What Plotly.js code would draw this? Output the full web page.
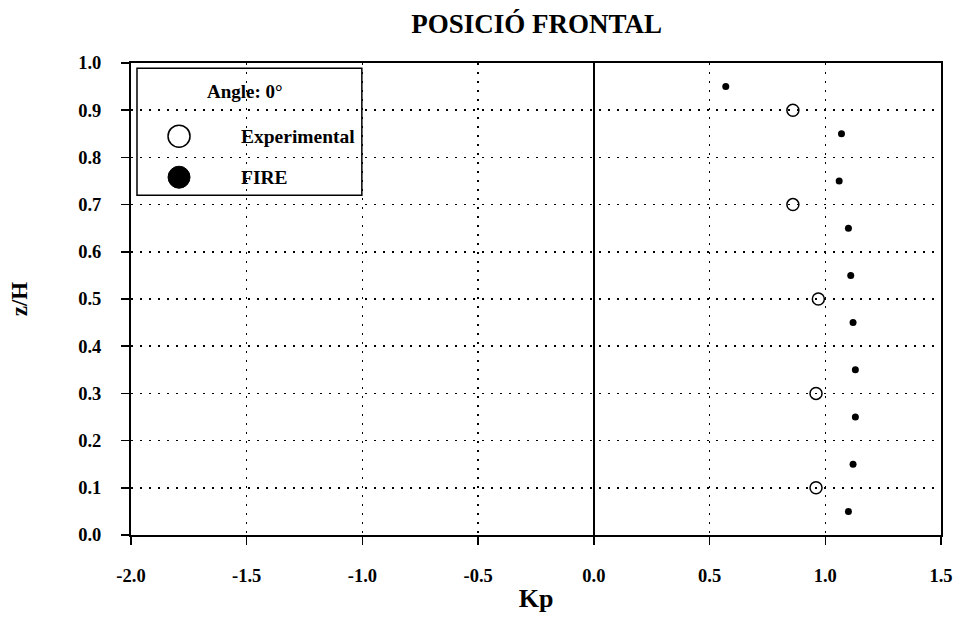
<!DOCTYPE html>
<html>
<head>
<meta charset="utf-8">
<script src="https://cdn.plot.ly/plotly-3.0.1.min.js"></script>
<style>html,body{margin:0;padding:0;background:#fff;}#chart{width:961px;height:621px;}</style>
</head>
<body>
<div id="chart"></div>
<script>
// Data
const expZ  = [0.9, 0.7, 0.5, 0.3, 0.1];
const expKp = [0.86, 0.86, 0.97, 0.96, 0.96];

const fireZ  = [0.95, 0.85, 0.75, 0.65, 0.55, 0.45, 0.35, 0.25, 0.15, 0.05];
const fireKp = [0.57, 1.07, 1.06, 1.10, 1.11, 1.12, 1.13, 1.13, 1.12, 1.10];

const xTicks = [-2.0, -1.5, -1.0, -0.5, 0.0, 0.5, 1.0, 1.5];
const yTicks = [0.0, 0.1, 0.2, 0.3, 0.4, 0.5, 0.6, 0.7, 0.8, 0.9, 1.0];

const FONT = '"Liberation Serif", "Times New Roman", serif';

const traces = [
  {
    x: expKp, y: expZ, type: 'scatter', mode: 'markers', name: 'Experimental',
    marker: {symbol: 'circle-open', size: 12, color: '#000', line: {width: 1.5, color: '#000'}},
    showlegend: false, cliponaxis: false
  },
  {
    x: fireKp, y: fireZ, type: 'scatter', mode: 'markers', name: 'FIRE',
    marker: {symbol: 'circle', size: 7, color: '#000'},
    showlegend: false, cliponaxis: false
  }
];

// legend geometry (paper coords)
const lgX0 = 0.0074, lgX1 = 0.285, lgY0 = 0.72, lgY1 = 0.989;
const lgMarkX = 0.0593, lgTextX = 0.1333;
const lgRowExp = 0.845, lgRowFire = 0.758;

const layout = {
  width: 961, height: 621,
  margin: {l: 131, r: 20, t: 63, b: 86},
  paper_bgcolor: '#fff', plot_bgcolor: '#fff',
  font: {family: FONT, color: '#000', size: 18, weight: 'bold'},
  title: {
    text: '<b>POSICIÓ FRONTAL</b>',
    font: {family: FONT, size: 27, color: '#000'},
    x: 0.5585, xanchor: 'center', y: 0.962, yanchor: 'middle'
  },
  xaxis: {
    range: [-2.0, 1.5], tickvals: xTicks, ticktext: xTicks.map(v => v.toFixed(1)),
    showline: true, linecolor: '#000', linewidth: 2, mirror: true,
    ticks: 'outside', ticklen: 8, tickwidth: 1.5, tickcolor: '#000',
    ticklabelstandoff: 15,
    tickfont: {family: FONT, size: 18.5, color: '#000', weight: 'bold'},
    showgrid: true, gridcolor: '#000', gridwidth: 1.5, griddash: '2px,7px',
    zeroline: true, zerolinecolor: '#000', zerolinewidth: 1.5,
    title: {text: '<b>Kp</b>', font: {family: FONT, size: 26, color: '#000'}, standoff: 4},
    fixedrange: true
  },
  yaxis: {
    range: [0, 1.0], tickvals: yTicks, ticktext: yTicks.map(v => v.toFixed(1)),
    showline: true, linecolor: '#000', linewidth: 2, mirror: true,
    ticks: 'outside', ticklen: 8, tickwidth: 1.5, tickcolor: '#000',
    ticklabelstandoff: 16,
    tickfont: {family: FONT, size: 18.5, color: '#000', weight: 'bold'},
    showgrid: true, gridcolor: '#000', gridwidth: 1.5, griddash: '2px,7px',
    zeroline: false,
    title: {text: '<b>z/H</b>', font: {family: FONT, size: 23, color: '#000'}, standoff: 44},
    fixedrange: true
  },
  shapes: [
    {type: 'rect', xref: 'paper', yref: 'paper', x0: lgX0, x1: lgX1, y0: lgY0, y1: lgY1,
     line: {color: '#000', width: 1.5}, fillcolor: 'rgba(0,0,0,0)'},
    {type: 'circle', xref: 'paper', yref: 'paper', xsizemode: 'pixel', ysizemode: 'pixel',
     xanchor: lgMarkX, yanchor: lgRowExp, x0: -11, x1: 11, y0: -11, y1: 11,
     line: {color: '#000', width: 1.5}, fillcolor: '#fff'},
    {type: 'circle', xref: 'paper', yref: 'paper', xsizemode: 'pixel', ysizemode: 'pixel',
     xanchor: lgMarkX, yanchor: lgRowFire, x0: -11, x1: 11, y0: -11, y1: 11,
     line: {color: '#000', width: 1}, fillcolor: '#000'}
  ],
  annotations: [
    {xref: 'paper', yref: 'paper', x: 0.1407, y: 0.9386, xanchor: 'center', yanchor: 'middle',
     text: '<b>Angle: 0°</b>', showarrow: false, font: {family: FONT, size: 19, color: '#000'}},
    {xref: 'paper', yref: 'paper', x: lgTextX, y: lgRowExp, xanchor: 'left', yanchor: 'middle',
     text: '<b>Experimental</b>', showarrow: false, font: {family: FONT, size: 19.5, color: '#000'}},
    {xref: 'paper', yref: 'paper', x: lgTextX, y: lgRowFire, xanchor: 'left', yanchor: 'middle',
     text: '<b>FIRE</b>', showarrow: false, font: {family: FONT, size: 19.5, color: '#000'}}
  ],
  showlegend: false
};

Plotly.newPlot('chart', traces, layout, {displayModeBar: false, staticPlot: true});
</script>
</body>
</html>
